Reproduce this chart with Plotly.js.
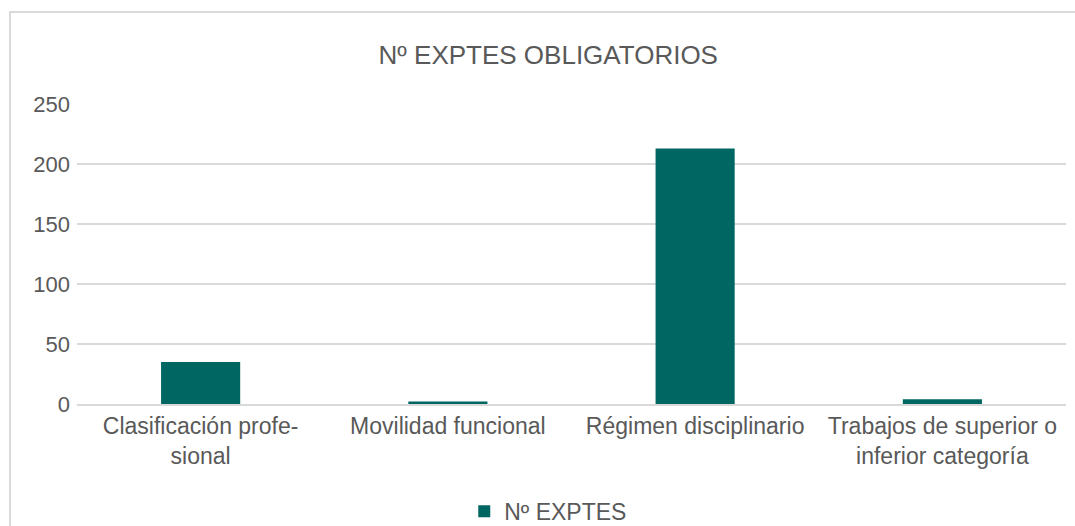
<!DOCTYPE html>
<html>
<head>
<meta charset="utf-8">
<script src="https://cdn.plot.ly/plotly-3.0.1.min.js"></script>
<style>
  body { margin: 0; background: #fff; }
  #frame { position: absolute; left: 9px; top: 11px; width: 1100px; height: 600px; border: 2px solid #d9d9d9; }
  #chart { position: absolute; left: 0; top: 0; width: 1075px; height: 526px; }
</style>
</head>
<body>
<div id="frame"></div>
<div id="chart"></div>
<script>
// data
var categories = ["Clasificación profe-<br>sional", "Movilidad funcional", "Régimen disciplinario", "Trabajos de superior o<br>inferior categoría"];
var expedientes = [35, 2, 213, 4];

var data = [{
  x: categories,
  y: expedientes,
  type: "bar",
  name: "Nº EXPTES",
  marker: {color: "#006662"},
  width: 0.32
}];

var layout = {
  width: 1075,
  height: 526,
  paper_bgcolor: "rgba(0,0,0,0)",
  plot_bgcolor: "rgba(0,0,0,0)",
  font: {family: "Liberation Sans, Arial, sans-serif", color: "#595959", size: 22},
  title: {text: "Nº EXPTES OBLIGATORIOS", font: {size: 26, color: "#595959"}, x: 0.51, xanchor: "center", y: 0.895, yanchor: "middle"},
  margin: {l: 77, r: 9, t: 104, b: 122},
  showlegend: true,
  legend: {orientation: "h", x: 0.51, xref: "container", xanchor: "center", y: 0.028, yref: "container", yanchor: "middle", font: {size: 23}},
  xaxis: {tickfont: {size: 23}, showline: true, linecolor: "#d9d9d9", linewidth: 2, ticks: ""},
  yaxis: {range: [0, 250], dtick: 50, gridcolor: "#d9d9d9", gridwidth: 2, zeroline: false, tickfont: {size: 22}, ticks: "", ticklabelstandoff: 6}
};

Plotly.newPlot("chart", data, layout, {displayModeBar: false});
</script>
</body>
</html>
